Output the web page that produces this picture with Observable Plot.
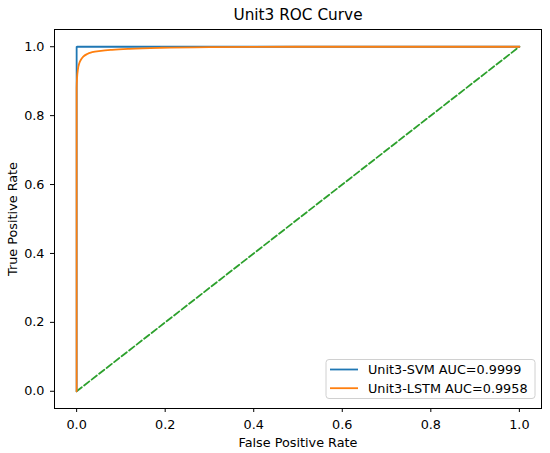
<!DOCTYPE html>
<html><head><meta charset="utf-8">
<script src="https://cdn.jsdelivr.net/npm/d3@7"></script>
<script src="https://cdn.jsdelivr.net/npm/@observablehq/plot@0.6"></script>
<style>body{margin:0;background:#fff;font-family:"DejaVu Sans",sans-serif}</style>
</head><body><div id="chart"></div>
<script>
const titleText = "Unit3 ROC Curve";
const xLabel = "False Positive Rate";
const yLabel = "True Positive Rate";
const seriesNames = ["Unit3-SVM AUC=0.9999", "Unit3-LSTM AUC=0.9958"];
const seriesColors = ["#1f77b4", "#ff7f0e"];
const diagColor = "#2ca02c";
const svmFpr = [0, 0, 0.001, 1];
const svmTpr = [0, 0.999, 1, 1];
const lstmFpr = [0, 0, 0.001, 0.003, 0.006, 0.01, 0.015, 0.024, 0.035, 0.055, 0.08, 0.12, 0.19, 0.3, 0.5, 1];
const lstmTpr = [0, 0.88, 0.91, 0.935, 0.952, 0.963, 0.971, 0.979, 0.984, 0.988, 0.991, 0.994, 0.997, 0.999, 1, 1];
const diagFpr = [0, 1];
const diagTpr = [0, 1];
const xTicks = [0, 0.2, 0.4, 0.6, 0.8, 1.0];
const yTicks = [0, 0.2, 0.4, 0.6, 0.8, 1.0];

const svm = svmFpr.map((x, i) => ({x, y: svmTpr[i]}));
const lstm = lstmFpr.map((x, i) => ({x, y: lstmTpr[i]}));
const diag = diagFpr.map((x, i) => ({x, y: diagTpr[i]}));

const W = 550, H = 453;
const mL = 54, mR = 9, mT = 29, mB = 45;
const FS = 12.8;

const chart = Plot.plot({
  width: W, height: H,
  marginLeft: mL, marginRight: mR, marginTop: mT, marginBottom: mB,
  style: {fontFamily: "DejaVu Sans", fontSize: FS + "px", color: "#000", background: "#fff"},
  x: {domain: [-0.05, 1.05], ticks: xTicks, tickFormat: d3.format(".1f")},
  y: {domain: [-0.05, 1.05], ticks: yTicks, tickFormat: d3.format(".1f")},
  marks: [
    Plot.axisX({ticks: xTicks, tickFormat: d3.format(".1f"), tickSize: 4, tickPadding: 7, label: xLabel, labelAnchor: "center", labelArrow: "none", labelOffset: 38, fontSize: FS}),
    Plot.axisY({ticks: yTicks, tickFormat: d3.format(".1f"), tickSize: 4, tickPadding: 6, label: yLabel, labelAnchor: "center", labelArrow: "none", labelOffset: 47, fontSize: FS}),
    Plot.line(diag, {x: "x", y: "y", stroke: diagColor, strokeWidth: 1.8, strokeDasharray: "6.6,2.9"}),
    Plot.line(svm, {x: "x", y: "y", stroke: seriesColors[0], strokeWidth: 1.8}),
    Plot.line(lstm, {x: "x", y: "y", stroke: seriesColors[1], strokeWidth: 1.8, curve: "monotone-x"}),
    Plot.frame({stroke: "#000", strokeWidth: 1}),
    Plot.text([titleText], {text: d => d, frameAnchor: "top", lineAnchor: "middle", dy: -14.5, fontSize: 15.3, fill: "#000"})
  ]
});
document.getElementById("chart").appendChild(chart);

// Legend (lower right, inside frame)
const svg = d3.select(chart);
const bw = 209, bh = 39;
const bx = W - mR - 6 - bw, by = H - mB - 9.5 - bh;
const g = svg.append("g").attr("font-family", "DejaVu Sans").attr("font-size", FS).attr("text-anchor", "start");
g.append("rect").attr("x", bx).attr("y", by).attr("width", bw).attr("height", bh)
  .attr("rx", 3).attr("fill", "#fff").attr("fill-opacity", 0.8).attr("stroke", "#d0d0d0");
seriesNames.forEach((name, i) => {
  const cy = by + 10 + i * 18.7;
  g.append("line").attr("x1", bx + 4).attr("x2", bx + 32).attr("y1", cy).attr("y2", cy)
    .attr("stroke", seriesColors[i]).attr("stroke-width", 1.8);
  g.append("text").attr("x", bx + 42).attr("y", cy).attr("dy", "0.35em").attr("fill", "#000")
    .attr("text-anchor", "start").text(name);
});
</script></body></html>
